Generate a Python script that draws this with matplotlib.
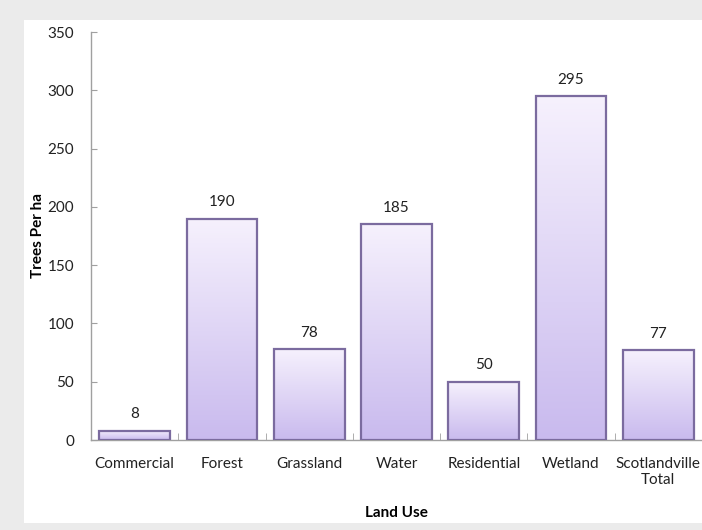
import matplotlib
matplotlib.use("Agg")
import matplotlib.pyplot as plt
import numpy as np
from matplotlib.patches import Rectangle
from matplotlib.colors import LinearSegmentedColormap

categories = ["Commercial", "Forest", "Grassland", "Water", "Residential", "Wetland", "Scotlandville\nTotal"]
values = [8, 190, 78, 185, 50, 295, 77]
yticks = [0, 50, 100, 150, 200, 250, 300, 350]

plt.rcParams['font.family'] = ['Lato', 'DejaVu Sans']

fig = plt.figure(figsize=(7.02, 5.30), dpi=100)
fig.patch.set_facecolor('#ebebeb')
W, H = 702, 530
fig.patches.append(Rectangle((24 / W, 1 - 523 / H), (W - 24) / W, (523 - 20) / H,
                             transform=fig.transFigure, facecolor='white', edgecolor='none', zorder=-10))

ax = fig.add_axes([91 / W, 1 - 440 / H, (W - 91) / W, (440 - 32) / H])
ax.set_facecolor('none')
ax.set_zorder(1)

cmap = LinearSegmentedColormap.from_list('lav', ['#c9baee', '#f6f1fd'])
grad = np.linspace(0, 1, 256).reshape(-1, 1)
width = 0.81
x = np.arange(len(categories))
bars = ax.bar(x, values, width=width, facecolor='none', edgecolor='#7b6b9f', linewidth=1.6, zorder=3)
for b in bars:
    x0, y0 = b.get_x(), b.get_y()
    w, h = b.get_width(), b.get_height()
    im = ax.imshow(grad, cmap=cmap, extent=[x0, x0 + w, y0, y0 + h], origin='lower',
                   aspect='auto', zorder=2, interpolation='bilinear')
    im.set_clip_path(b)

fs = 11
for xi, v in zip(x, values):
    ax.text(xi, v + 8, str(v), ha='center', va='bottom', fontsize=fs, color='#222222')

ax.set_xlim(-0.5, len(categories) - 0.5)
ax.set_ylim(0, 350)
ax.set_yticks(yticks)
ax.set_yticklabels([str(t) for t in yticks], fontsize=fs, color='#222222')
ax.set_xticks(x)
ax.set_xticklabels(categories, fontsize=fs, color='#222222')
ax.tick_params(axis='x', length=0, pad=12)
ax.set_xticks(np.arange(0.5, len(categories) - 0.5, 1.0), minor=True)
ax.tick_params(axis='x', which='minor', direction='in', length=5, color='#a0a0a0')
ax.tick_params(axis='y', direction='in', length=4, color='#a0a0a0', pad=12)

for s in ['top', 'right']:
    ax.spines[s].set_visible(False)
for s in ['left', 'bottom']:
    ax.spines[s].set_color('#a0a0a0')
    ax.spines[s].set_linewidth(1.0)

ax.set_xlabel('Land Use', fontsize=fs, fontweight='bold', labelpad=14)
ax.set_ylabel('Trees Per ha', fontsize=fs, fontweight='bold', labelpad=2)

fig.savefig('out.png', dpi=100, facecolor=fig.get_facecolor())
